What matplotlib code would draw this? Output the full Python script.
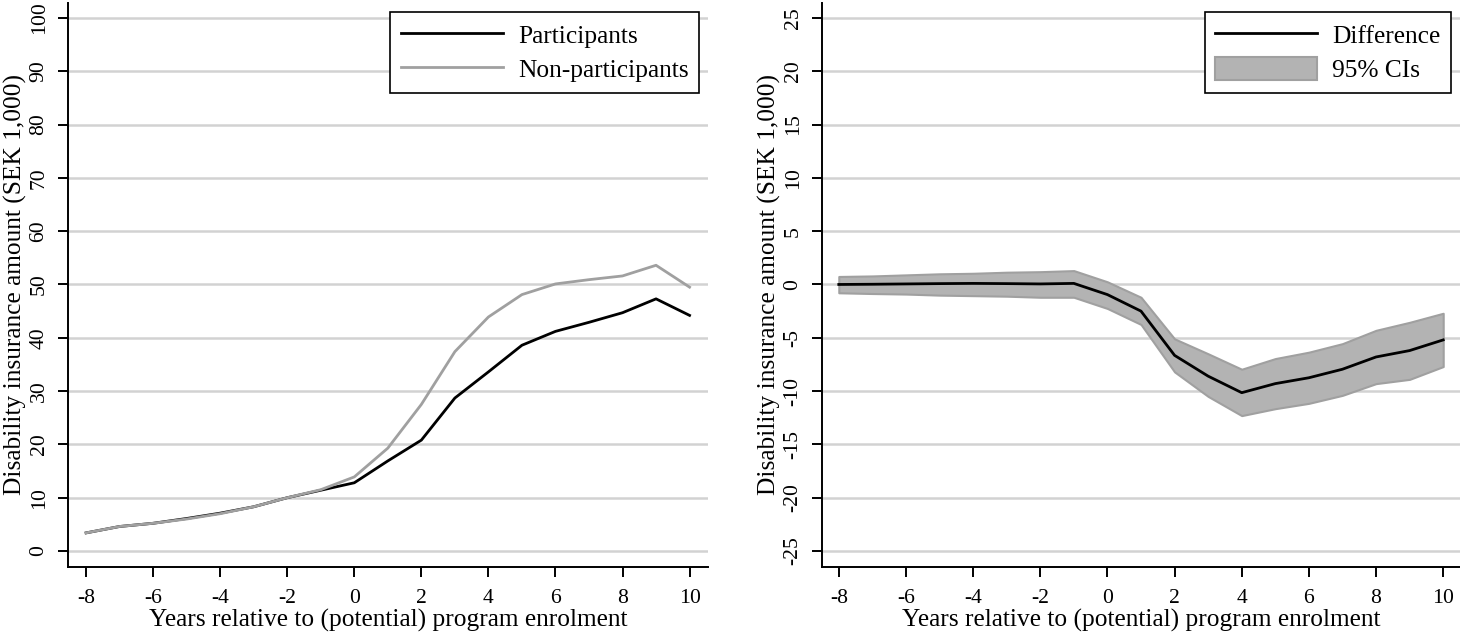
import numpy as np
import matplotlib.pyplot as plt

years = list(range(-8, 11))

participants = [3.4, 4.6, 5.2, 6.1, 7.1, 8.3, 10.0, 11.4, 12.8, 16.9, 20.8,
                28.7, 33.6, 38.6, 41.2, 42.9, 44.7, 47.3, 44.2]
non_participants = [3.4, 4.6, 5.2, 6.0, 7.0, 8.3, 10.0, 11.5, 13.9, 19.3, 27.5,
                    37.4, 43.9, 48.1, 50.1, 50.9, 51.6, 53.6, 49.5]

difference = [0.0, 0.02, 0.05, 0.08, 0.1, 0.08, 0.05, 0.1, -0.95, -2.5, -6.65,
              -8.6, -10.15, -9.3, -8.75, -7.95, -6.8, -6.2, -5.2]
ci_upper = [0.75, 0.8, 0.9, 1.0, 1.05, 1.15, 1.2, 1.3, 0.25, -1.2, -5.1,
            -6.5, -7.95, -6.95, -6.35, -5.55, -4.3, -3.55, -2.7]
ci_lower = [-0.78, -0.85, -0.9, -1.0, -1.05, -1.1, -1.2, -1.2, -2.25, -3.75, -8.2,
            -10.5, -12.3, -11.65, -11.15, -10.4, -9.3, -8.9, -7.7]

plt.rcParams['font.family'] = ['Liberation Serif', 'DejaVu Serif']
plt.rcParams['axes.unicode_minus'] = False
fs_lab = 18.3   # axis titles, legend
fs_tick = 15.6

fig = plt.figure(figsize=(14.6, 6.35), dpi=100)
ax1 = fig.add_axes([68/1460, 68/635, (708-68)/1460, (567-3)/635])
ax2 = fig.add_axes([822/1460, 68/635, (1460-822)/1460, (567-3)/635])

grid_col = '#d2d2d2'


def style(ax, yticks):
    ax.set_yticks(yticks)
    ax.set_xticks(range(-8, 11, 2))
    ax.grid(axis='y', color=grid_col, linewidth=1.8)
    ax.set_axisbelow(True)
    for s in ['top', 'right']:
        ax.spines[s].set_visible(False)
    for s in ['left', 'bottom']:
        ax.spines[s].set_linewidth(1.4)
    ax.tick_params(axis='y', direction='out', length=7, width=1.4, labelsize=fs_tick, pad=7)
    ax.tick_params(axis='x', direction='out', length=7, width=1.4, labelsize=fs_tick, pad=9)
    for lab in ax.get_yticklabels():
        lab.set_rotation(90)
        lab.set_va('center')
    ax.set_xlabel('Years relative to (potential) program enrolment', fontsize=fs_lab, labelpad=0.5)
    ax.set_ylabel('Disability insurance amount (SEK 1,000)', fontsize=fs_lab, labelpad=2)


def legend(ax, handles, labels):
    leg = ax.legend(handles, labels, loc='upper right', frameon=True, fancybox=False,
                    fontsize=fs_lab, handlelength=4.0, handleheight=1.0,
                    borderaxespad=0.35, handletextpad=0.6, labelspacing=0.38,
                    borderpad=0.42, framealpha=1)
    leg.get_frame().set_edgecolor('black')
    leg.get_frame().set_linewidth(1.2)


# left panel
ax1.plot(years, participants, color='black', linewidth=2, label='Participants')
ax1.plot(years, non_participants, color='#a0a0a0', linewidth=2, label='Non-participants')
ax1.set_xlim(-8.54, 10.55)
ax1.set_ylim(-3, 102.8)
style(ax1, range(0, 101, 10))
h, l = ax1.get_legend_handles_labels()
legend(ax1, h, l)

# right panel
ax2.fill_between(years, ci_lower, ci_upper, facecolor='#b3b3b3', edgecolor='#a0a0a0',
                 linewidth=1.5, label='95% CIs')
ax2.plot(years, difference, color='black', linewidth=2, label='Difference')
ax2.set_xlim(-8.5, 10.5)
ax2.set_ylim(-26.5, 26.4)
style(ax2, range(-25, 26, 5))
h, l = ax2.get_legend_handles_labels()
legend(ax2, h[::-1], l[::-1])

fig.savefig('out.png', dpi=100)
